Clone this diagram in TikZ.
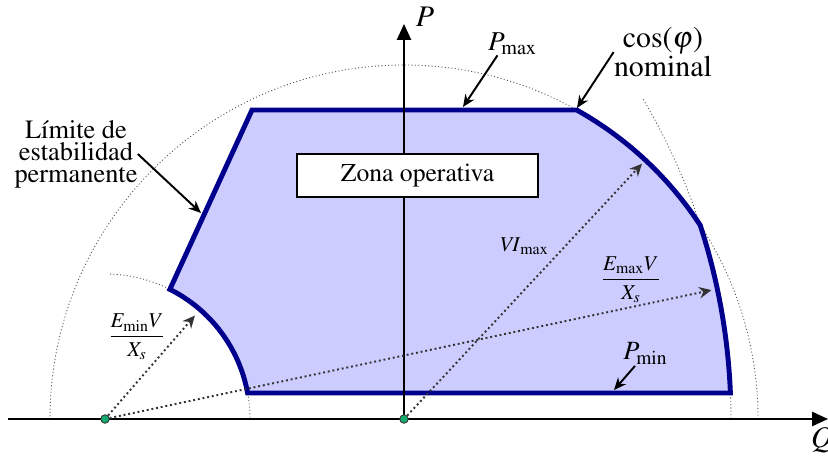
\documentclass[tikz,border=0pt]{standalone}
\usepackage[T1]{fontenc}
\usepackage{mathptmx}
\usetikzlibrary{arrows.meta}

\definecolor{zonafill}{RGB}{204,204,255}
\definecolor{zonaedge}{RGB}{0,0,140}
\definecolor{dotgreen}{RGB}{20,170,110}

\tikzset{
  axis/.style={line width=1.1pt, -{Triangle[length=9pt,width=8pt]}},
  guide/.style={black!65, line width=0.5pt, dash pattern=on 0.6pt off 1.3pt},
  radial/.style={black!80, line width=1.1pt, dash pattern=on 1.1pt off 1.6pt, -{Stealth[length=7pt,width=6.5pt]}},
  pointer/.style={line width=1.1pt, -{Stealth[length=7pt,width=6pt]}},
  mathlbl/.style={inner sep=0pt, font=\fontsize{#1}{18}\selectfont},
  mathlbl/.default=17,
  fraclbl/.style={inner sep=0pt, font=\fontsize{12}{14}\selectfont},
  textlbl/.style={inner sep=0pt, align=center},
  centre/.style={circle, draw=black!80, fill=dotgreen, line width=0.5pt, inner sep=0pt, minimum size=0.17cm},
}

\begin{document}
\begin{tikzpicture}[x=0.2mm, y=0.2mm]
\useasboundingbox (-404,-40) rectangle (424,419);

\def\rvi{354};
\def\remax{626};
\def\remin{145};
\coordinate (o) at (0,0);
\coordinate (c) at (-299,0);

% circle guides
\draw[guide] (\rvi,0) arc[start angle=0, end angle=180, radius=\rvi];
\draw[guide] ([shift={(c)}]30.7:\remax) arc[start angle=30.7, end angle=0, radius=\remax];
\draw[guide] ([shift={(c)}]88:\remin) arc[start angle=88, end angle=0, radius=\remin];

% zona operativa
\filldraw[fill=zonafill, draw=zonaedge, line width=2.8pt]
  (-152,309) -- (172.7,309)
  arc[start angle=60.8, end angle=33.19, radius=\rvi]
  arc[start angle=18.03, end angle=2.38, radius=\remax]
  -- (-156.4,26)
  arc[start angle=10.33, end angle=63.4, radius=\remin] -- cycle;

% axes
\coordinate (qstart) at (-396,0);
\coordinate (qend) at (424,0);
\coordinate (ptop) at (0,395);
\draw[axis] (qstart) -- (qend);
\draw[axis] (o) -- (ptop);

\node[draw, fill=white, line width=1.1pt, minimum width=4.82cm, minimum height=0.86cm,
  inner sep=0pt, font=\fontsize{14.6}{16}\selectfont] (zona) at (13.5,243.5) {Zona operativa};

% radii
\coordinate (vitip) at (47:349);
\coordinate (emaxtip) at ([shift={(c)}]12:620);
\coordinate (emintip) at ([shift={(c)}]49:137);
\foreach \a/\b in {o/vitip, c/emaxtip, c/emintip}
  \draw[radial] (\a) -- (\b);

\foreach \p in {o,c}
  \node[centre] (\p dot) at (\p) {};

\node[mathlbl] (plbl) at (21,402) {$P$};
\node[mathlbl] (qlbl) at (418,-21) {$Q$};
\node[mathlbl=15.5] (pmax) at (108.5,375) {$P_{\mathrm{max}}$};
\node[mathlbl=15] (pmin) at (241.5,65.5) {$P_{\mathrm{min}}$};
\node[mathlbl=12] (vimax) at (120,173) {$\mathit{VI}_{\mathrm{max}}$};
\node[fraclbl] (emax) at (227,139) {$\displaystyle\frac{E_{\mathrm{max}}V}{X_s}$};
\node[fraclbl] (emin) at (-267,82) {$\displaystyle\frac{E_{\mathrm{min}}V}{X_s}$};
\node[textlbl, font=\fontsize{17}{13}\selectfont] (cosphi) at (259,367) {cos($\varphi$)\\nominal};
\node[textlbl, font=\fontsize{15}{12.5}\selectfont] (limite) at (-328,265) {L\'{\i}mite de\\estabilidad\\permanente};

% pointers
\coordinate (pmaxtip) at (59,312);
\coordinate (costip) at (173,311);
\coordinate (limtip) at (-203,206);
\coordinate (pmintip) at (210,29);
\draw[pointer] ([xshift=-0.3cm]pmax.south) -- (pmaxtip);
\draw[pointer] ([shift={(-0.21cm,-0.12cm)}]pmin.base) -- (pmintip);
\foreach \a/\b in {cosphi.west/costip, limite.east/limtip}
  \draw[pointer] (\a) -- (\b);

\end{tikzpicture}
\end{document}
